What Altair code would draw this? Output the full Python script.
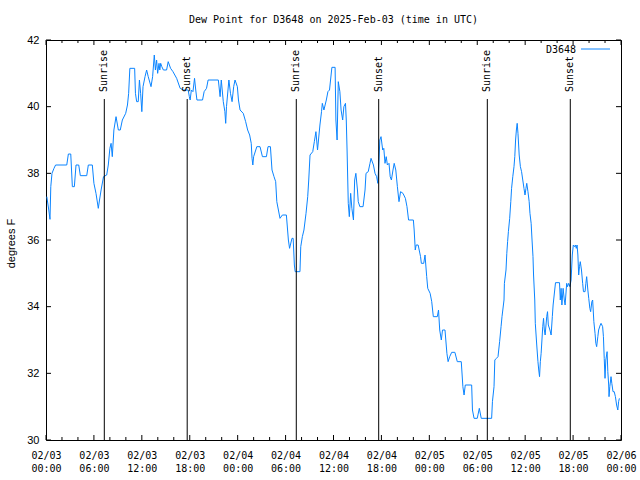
import altair as alt
import pandas as pd

# ---- data (hours since 2025-02-03 00:00 UTC, dew point in degrees F) ----
hours = [0.1, 0.35, 0.5, 0.6, 0.75, 1.0, 1.2, 2.6, 2.8, 3.1, 3.3, 3.55, 3.76, 4.1, 4.3, 5.1, 5.3, 5.8,
         6.0, 6.26, 6.55, 6.7, 6.9, 7.2, 7.6, 7.8, 8.0, 8.15, 8.3, 8.5, 8.77, 9.06, 9.3, 9.56, 9.98,
         10.2, 10.35, 10.5, 11.1, 11.2, 11.35, 11.55, 11.7, 11.85, 12.0, 12.15, 12.4, 12.6, 12.8,
         13.15, 13.35, 13.56, 13.7, 13.85, 13.98, 14.15, 14.25, 14.36, 14.5, 14.7, 15.1, 15.3, 15.6,
         15.9, 16.36, 16.8, 17.2, 17.8, 17.95, 18.05, 18.2, 18.4, 18.6, 18.75, 18.9, 19.6, 19.8, 20.1,
         20.3, 21.58, 21.8, 21.95, 22.2, 22.4, 22.5, 22.6, 22.9, 23.1, 23.3, 23.5, 23.67, 23.96, 24.1,
         24.3, 24.7, 25.0, 25.25, 25.5, 25.7, 25.8, 25.9, 26.0, 26.4, 26.8, 27.1, 27.6, 27.8, 28.1,
         28.3, 28.55, 28.76, 28.9, 29.1, 29.3, 29.6, 30.1, 30.35, 30.5, 30.8, 30.95, 31.1, 31.2, 31.8,
         31.9, 32.1, 32.3, 32.56, 32.77, 32.9, 33.06, 33.4, 33.6, 33.8, 34.0, 34.3, 34.5, 34.6, 34.8,
         35.1, 35.3, 35.5, 35.8, 36.2, 36.3, 36.45, 36.6, 36.8, 36.95, 37.15, 37.3, 37.5, 37.6, 37.7,
         37.85, 37.98, 38.15, 38.3, 38.5, 38.65, 38.8, 39.0, 39.1, 39.3, 39.7, 39.95, 40.07, 40.35,
         40.57, 40.7, 41.0, 41.2, 41.4, 41.55, 41.7, 41.8, 41.95, 42.16, 42.3, 42.45, 42.6, 42.75,
         42.95, 43.1, 43.25, 43.45, 43.6, 43.8, 44.0, 44.2, 44.4, 44.7, 45.0, 45.2, 45.4, 46.0, 46.1,
         46.24, 46.35, 46.6, 46.9, 47.0, 47.3, 47.46, 47.67, 47.8, 48.1, 48.3, 48.5, 49.0, 49.15, 49.3,
         49.5, 49.65, 49.96, 50.2, 50.35, 50.55, 50.8, 51.2, 51.5, 52.0, 52.2, 52.35, 52.5, 53.3, 53.4,
         53.6, 54.0, 54.26, 54.5, 55.8, 55.9, 56.1, 56.2, 56.4, 56.6, 56.8, 56.98, 57.1, 57.2, 57.35,
         57.4, 57.6, 57.7, 57.8, 57.9, 58.06, 58.2, 58.3, 58.45, 58.6, 58.7, 58.8, 58.9, 59.0, 59.1,
         59.25, 59.4, 59.55, 59.7, 59.85, 59.98, 60.1, 60.2, 60.35, 60.5, 60.6, 60.75, 60.86, 60.98,
         61.05, 61.2, 61.27, 61.45, 61.6, 61.7, 61.8, 61.9, 62.0, 62.1, 62.2, 62.3, 62.4, 62.5, 62.7,
         62.8, 62.9, 63.1, 63.25, 63.4, 63.5, 63.7, 63.8, 64.3, 64.4, 64.5, 64.6, 64.75, 64.9, 65.0,
         65.2, 65.3, 65.45, 65.6, 65.75, 65.9, 66.03, 66.2, 66.3, 66.4, 66.5, 66.6, 66.7, 66.8, 66.9,
         67.05, 67.2, 67.3, 67.5, 67.6, 67.7, 67.85, 67.96, 68.1, 68.2, 68.35, 68.45, 68.6, 68.75,
         68.85, 68.95, 69.1, 69.2, 69.4, 69.5, 69.7, 69.8, 69.9, 70.0, 70.1, 70.26, 70.35, 70.46,
         70.5, 70.6, 70.75, 70.85, 71.0, 71.15, 71.3, 71.45, 71.6, 71.7, 71.8]
dewpoint = [37.3, 36.9, 36.62, 37.6, 38.0, 38.15, 38.25, 38.25, 38.58, 38.58, 37.6, 37.6, 38.25, 38.25,
            37.93, 37.93, 38.25, 38.25, 37.7, 37.4, 36.95, 37.2, 37.5, 37.9, 37.95, 38.25, 38.75, 38.9,
            38.5, 39.3, 39.7, 39.3, 39.3, 39.6, 39.8, 40.05, 40.4, 41.15, 41.15, 40.4, 40.15, 40.15,
            40.8, 40.4, 39.85, 40.6, 40.9, 41.1, 40.9, 40.6, 40.9, 41.55, 41.1, 41.4, 41.0, 41.3, 41.1,
            41.3, 41.2, 41.1, 41.1, 41.35, 41.15, 41.05, 40.85, 40.55, 40.5, 40.5, 40.3, 40.2, 40.5,
            40.45, 40.85, 40.5, 40.2, 40.2, 40.45, 40.55, 40.8, 40.8, 40.3, 40.8, 40.15, 39.85, 39.5,
            40.0, 40.8, 40.4, 40.15, 40.6, 40.8, 40.6, 40.2, 39.9, 39.8, 39.55, 39.3, 39.15, 38.9,
            38.45, 38.25, 38.5, 38.8, 38.8, 38.5, 38.5, 38.8, 38.8, 38.1, 37.9, 37.75, 37.15, 36.9,
            36.65, 36.75, 36.75, 36.0, 35.75, 36.05, 36.05, 35.25, 35.05, 35.05, 35.8, 36.1, 36.3,
            36.8, 37.3, 37.8, 38.55, 38.65, 38.95, 39.25, 38.7, 39.45, 39.85, 40.1, 39.9, 40.2, 40.45,
            40.5, 41.18, 41.18, 39.6, 39.0, 40.75, 40.45, 39.9, 39.6, 40.0, 40.1, 39.6, 38.7, 37.1,
            36.7, 37.4, 36.95, 36.6, 37.8, 38.0, 37.5, 37.15, 37.0, 37.0, 37.5, 38.0, 38.05, 38.3,
            38.45, 38.25, 38.0, 37.9, 37.7, 38.4, 39.0, 39.1, 38.7, 38.75, 38.3, 38.5, 38.25, 38.3,
            37.9, 37.8, 38.1, 38.3, 38.1, 37.6, 37.15, 37.45, 37.4, 37.25, 37.0, 36.6, 36.6, 36.3,
            35.7, 35.85, 35.85, 35.5, 35.3, 35.3, 35.55, 34.9, 34.55, 34.4, 34.15, 33.7, 33.7, 33.9,
            33.3, 33.0, 33.3, 33.3, 32.6, 32.35, 32.5, 32.63, 32.63, 32.35, 32.35, 31.6, 31.35, 31.65,
            31.65, 30.9, 30.65, 30.65, 30.95, 30.65, 30.65, 31.15, 31.6, 32.4, 32.45, 32.5, 32.95,
            33.4, 33.7, 33.9, 34.2, 34.7, 35.1, 35.6, 35.95, 36.25, 36.65, 37.15, 37.55, 37.9, 38.2,
            38.5, 39.0, 39.3, 39.5, 39.2, 38.55, 38.2, 38.05, 37.8, 37.55, 37.35, 37.55, 37.7, 37.45,
            37.15, 36.8, 36.5, 36.0, 35.5, 34.95, 34.2, 33.5, 32.85, 32.35, 32.1, 31.9, 32.35, 32.6,
            33.0, 33.4, 33.65, 33.3, 33.15, 33.7, 33.85, 33.45, 33.3, 33.15, 33.7, 34.05, 34.5, 34.72,
            34.72, 34.2, 34.55, 34.05, 34.55, 34.2, 34.05, 34.7, 34.6, 34.7, 34.6, 34.8, 35.55, 35.85,
            35.8, 35.85, 35.75, 35.85, 35.55, 34.95, 35.2, 35.35, 35.1, 34.7, 34.45, 34.45, 34.7,
            34.9, 34.5, 34.25, 33.95, 33.85, 34.15, 34.2, 33.55, 33.2, 32.9, 32.8, 33.1, 33.3, 33.45,
            33.5, 33.4, 33.1, 32.45, 31.85, 32.4, 32.65, 32.05, 31.65, 31.3, 31.6, 31.9, 31.7, 31.45,
            31.45, 31.3, 31.05, 30.9, 31.15, 31.25]
series_name = "D3648"

sun_hours = [7.30, 17.68, 31.34, 41.66, 55.26, 65.65]
sun_labels = ["Sunrise", "Sunset", "Sunrise", "Sunset", "Sunrise", "Sunset"]

x_tick_hours = [0, 6, 12, 18, 24, 30, 36, 42, 48, 54, 60, 66, 72]
x_tick_dates = ["02/03", "02/03", "02/03", "02/03", "02/04", "02/04", "02/04", "02/04",
                "02/05", "02/05", "02/05", "02/05", "02/06"]
x_tick_times = ["00:00", "06:00", "12:00", "18:00", "00:00", "06:00", "12:00", "18:00",
                "00:00", "06:00", "12:00", "18:00", "00:00"]
x_minor_hours = [2, 4, 8, 10, 14, 16, 20, 22, 26, 28, 32, 34, 38, 40, 44, 46, 50, 52, 56, 58,
                 62, 64, 68, 70]
y_ticks = [30, 32, 34, 36, 38, 40, 42]

# ---- layout / style ----
W, H = 575, 400
MONO = "DejaVu Sans Mono"
SANS = "Liberation Sans"
LINE_COLOR = "#0a84ff"

df = pd.DataFrame({"hour": hours, "dew": dewpoint})
sun_df = pd.DataFrame({"hour": sun_hours, "label": sun_labels})
major_df = pd.DataFrame({"hour": x_tick_hours})
minor_df = pd.DataFrame({"hour": x_minor_hours})
yt_df = pd.DataFrame({"dew": y_ticks})
leg_df = pd.DataFrame({"name": [series_name]})

label_expr = "[" + ",".join(f"['{d}','{t}']" for d, t in zip(x_tick_dates, x_tick_times)) + \
    "][round(datum.value / 6)]"

x_enc = alt.X(
    "hour:Q",
    scale=alt.Scale(domain=[0, 72], nice=False, zero=False),
    axis=alt.Axis(values=x_tick_hours, labelExpr=label_expr, title=None, grid=False,
                  ticks=False, domain=False, labelFont=MONO, labelFontSize=10,
                  labelColor="black", labelPadding=10, labelLineHeight=13,
                  labelFlush=False, labelOverlap=False, labelBound=False),
)
y_enc = alt.Y(
    "dew:Q",
    scale=alt.Scale(domain=[30, 42], nice=False, zero=False),
    axis=alt.Axis(values=y_ticks, title="degrees F", grid=False, ticks=False, domain=False,
                  labelFont=SANS, labelFontSize=11, labelColor="black", labelPadding=7,
                  labelFlush=False, titleFont=SANS, titleFontSize=11, titleFontWeight="normal",
                  titleColor="black", titleX=-35, titleY=203, titleAngle=270,
                  titleAlign="center", titleBaseline="middle"),
)

line = alt.Chart(df).mark_line(color=LINE_COLOR, strokeWidth=1, clip=True).encode(x=x_enc, y=y_enc)

sun_rules = alt.Chart(sun_df).mark_rule(color="black", strokeWidth=1).encode(
    x=x_enc, y=alt.value(59), y2=alt.value(H))
sun_text = alt.Chart(sun_df).mark_text(angle=270, align="left", baseline="middle",
                                       font=MONO, fontSize=10, color="black").encode(
    x=x_enc, y=alt.value(52), text="label:N")

major_bottom = alt.Chart(major_df).mark_rule(color="black").encode(
    x=x_enc, y=alt.value(H - 5), y2=alt.value(H))
major_top = alt.Chart(major_df).mark_rule(color="black").encode(
    x=x_enc, y=alt.value(0), y2=alt.value(5))
minor_bottom = alt.Chart(minor_df).mark_rule(color="black").encode(
    x=x_enc, y=alt.value(H - 3), y2=alt.value(H))
minor_top = alt.Chart(minor_df).mark_rule(color="black").encode(
    x=x_enc, y=alt.value(0), y2=alt.value(3))
y_left = alt.Chart(yt_df).mark_rule(color="black").encode(
    y=y_enc, x=alt.value(0), x2=alt.value(5))
y_right = alt.Chart(yt_df).mark_rule(color="black").encode(
    y=y_enc, x=alt.value(W - 5), x2=alt.value(W))

leg_text = alt.Chart(leg_df).mark_text(align="right", baseline="middle", font=MONO,
                                       fontSize=10, color="black").encode(
    x=alt.value(530), y=alt.value(10), text="name:N")
leg_line = alt.Chart(leg_df).mark_rule(color=LINE_COLOR, strokeWidth=1).encode(
    x=alt.value(535), x2=alt.value(564), y=alt.value(9))

chart = alt.layer(
    line, sun_rules, sun_text, major_bottom, major_top, minor_bottom, minor_top,
    y_left, y_right, leg_text, leg_line
).properties(
    width=W, height=H,
    title=alt.TitleParams("Dew Point for D3648 on 2025-Feb-03 (time in UTC)", font=MONO,
                          fontSize=10, fontWeight="normal", anchor="middle", offset=9,
                          color="black"),
    autosize=alt.AutoSizeParams(type="none"),
    padding={"left": 46, "top": 40, "right": 19, "bottom": 40},
    background="white",
).configure_view(stroke="black", strokeWidth=1)

chart.save("out.html", embed_options={"renderer": "svg", "actions": False})
